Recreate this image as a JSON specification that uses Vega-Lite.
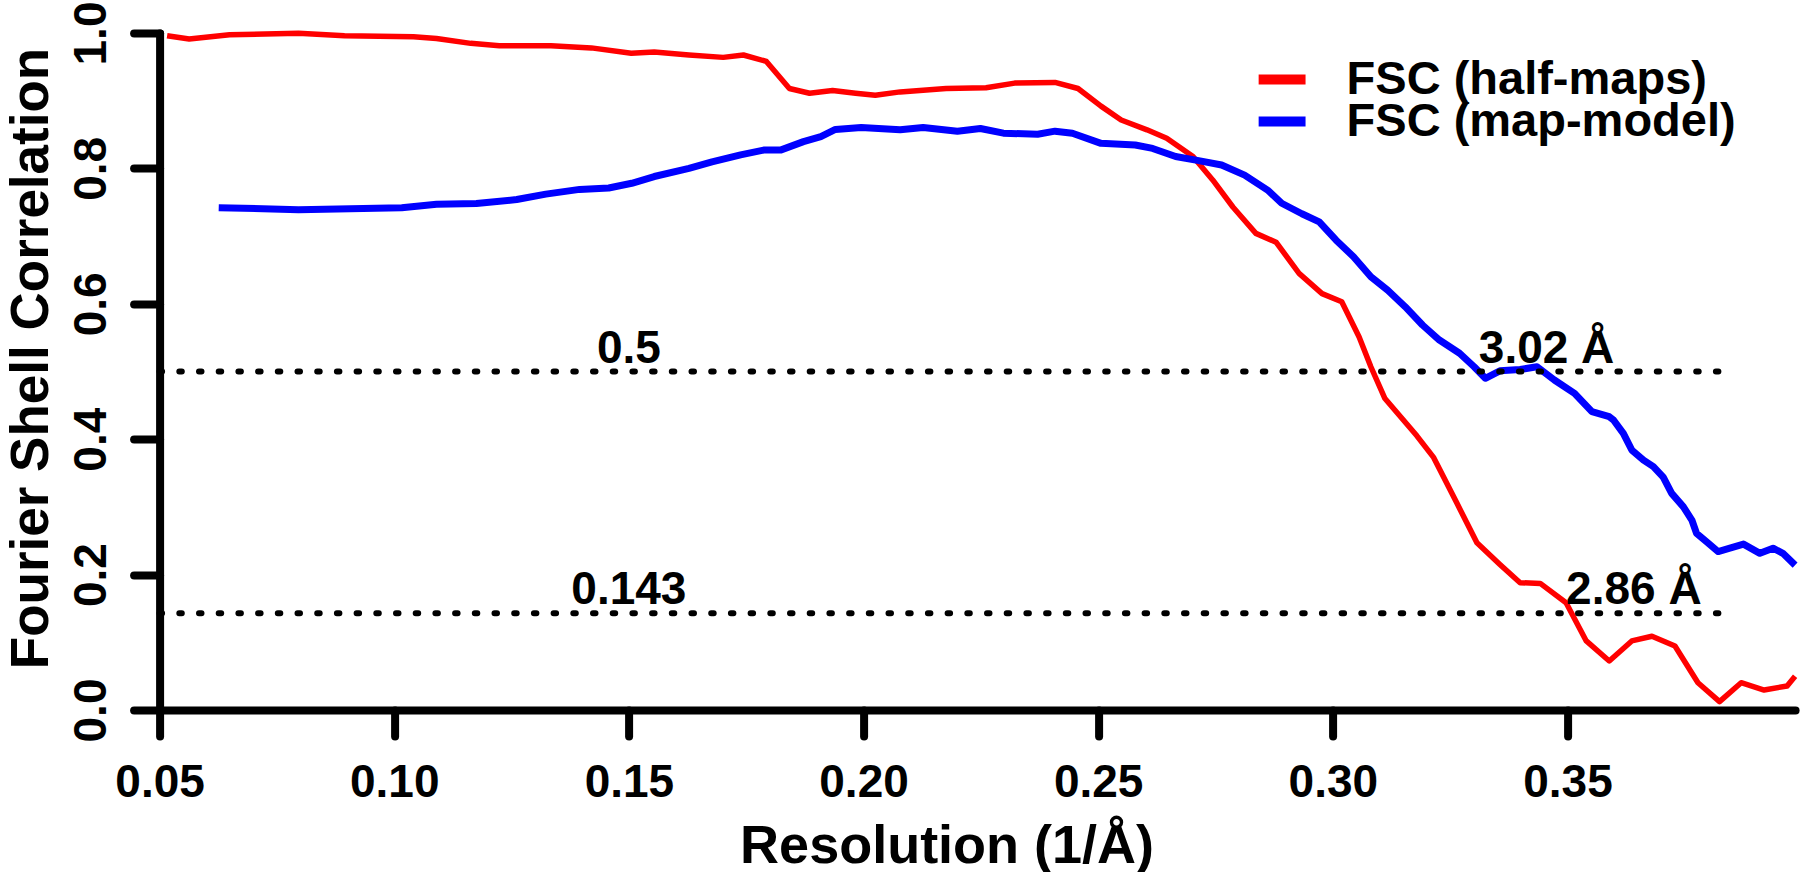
{
  "$schema": "https://vega.github.io/schema/vega-lite/v6.json",
  "width": 1635.5,
  "height": 677,
  "autosize": {"type": "none"},
  "padding": {"left": 159.6, "top": 33, "right": 4.9, "bottom": 162},
  "background": "white",
  "config": {"view": {"stroke": null}, "font": "Liberation Sans"},
  "datasets": {
    "halfmaps": [
      {"res": 0.0516, "fsc": 0.996, "series": "FSC (half-maps)"},
      {"res": 0.0563, "fsc": 0.991, "series": "FSC (half-maps)"},
      {"res": 0.0649, "fsc": 0.9975, "series": "FSC (half-maps)"},
      {"res": 0.0796, "fsc": 0.9995, "series": "FSC (half-maps)"},
      {"res": 0.0894, "fsc": 0.996, "series": "FSC (half-maps)"},
      {"res": 0.1041, "fsc": 0.9946, "series": "FSC (half-maps)"},
      {"res": 0.109, "fsc": 0.992, "series": "FSC (half-maps)"},
      {"res": 0.1163, "fsc": 0.9847, "series": "FSC (half-maps)"},
      {"res": 0.1224, "fsc": 0.981, "series": "FSC (half-maps)"},
      {"res": 0.1334, "fsc": 0.981, "series": "FSC (half-maps)"},
      {"res": 0.142, "fsc": 0.978, "series": "FSC (half-maps)"},
      {"res": 0.1505, "fsc": 0.97, "series": "FSC (half-maps)"},
      {"res": 0.1554, "fsc": 0.972, "series": "FSC (half-maps)"},
      {"res": 0.1628, "fsc": 0.9675, "series": "FSC (half-maps)"},
      {"res": 0.1701, "fsc": 0.964, "series": "FSC (half-maps)"},
      {"res": 0.1744, "fsc": 0.9675, "series": "FSC (half-maps)"},
      {"res": 0.1793, "fsc": 0.958, "series": "FSC (half-maps)"},
      {"res": 0.1842, "fsc": 0.918, "series": "FSC (half-maps)"},
      {"res": 0.1885, "fsc": 0.911, "series": "FSC (half-maps)"},
      {"res": 0.1934, "fsc": 0.915, "series": "FSC (half-maps)"},
      {"res": 0.1983, "fsc": 0.911, "series": "FSC (half-maps)"},
      {"res": 0.2025, "fsc": 0.908, "series": "FSC (half-maps)"},
      {"res": 0.2078, "fsc": 0.913, "series": "FSC (half-maps)"},
      {"res": 0.2176, "fsc": 0.918, "series": "FSC (half-maps)"},
      {"res": 0.2261, "fsc": 0.919, "series": "FSC (half-maps)"},
      {"res": 0.2322, "fsc": 0.926, "series": "FSC (half-maps)"},
      {"res": 0.2408, "fsc": 0.927, "series": "FSC (half-maps)"},
      {"res": 0.2457, "fsc": 0.918, "series": "FSC (half-maps)"},
      {"res": 0.2506, "fsc": 0.892, "series": "FSC (half-maps)"},
      {"res": 0.2549, "fsc": 0.8715, "series": "FSC (half-maps)"},
      {"res": 0.2604, "fsc": 0.857, "series": "FSC (half-maps)"},
      {"res": 0.2646, "fsc": 0.8445, "series": "FSC (half-maps)"},
      {"res": 0.2702, "fsc": 0.8175, "series": "FSC (half-maps)"},
      {"res": 0.2744, "fsc": 0.783, "series": "FSC (half-maps)"},
      {"res": 0.2787, "fsc": 0.743, "series": "FSC (half-maps)"},
      {"res": 0.2836, "fsc": 0.704, "series": "FSC (half-maps)"},
      {"res": 0.2879, "fsc": 0.691, "series": "FSC (half-maps)"},
      {"res": 0.2928, "fsc": 0.645, "series": "FSC (half-maps)"},
      {"res": 0.2977, "fsc": 0.615, "series": "FSC (half-maps)"},
      {"res": 0.3019, "fsc": 0.603, "series": "FSC (half-maps)"},
      {"res": 0.3056, "fsc": 0.551, "series": "FSC (half-maps)"},
      {"res": 0.3081, "fsc": 0.507, "series": "FSC (half-maps)"},
      {"res": 0.3111, "fsc": 0.46, "series": "FSC (half-maps)"},
      {"res": 0.3179, "fsc": 0.405, "series": "FSC (half-maps)"},
      {"res": 0.3215, "fsc": 0.3727, "series": "FSC (half-maps)"},
      {"res": 0.3264, "fsc": 0.306, "series": "FSC (half-maps)"},
      {"res": 0.3307, "fsc": 0.247, "series": "FSC (half-maps)"},
      {"res": 0.3356, "fsc": 0.215, "series": "FSC (half-maps)"},
      {"res": 0.3399, "fsc": 0.188, "series": "FSC (half-maps)"},
      {"res": 0.3442, "fsc": 0.187, "series": "FSC (half-maps)"},
      {"res": 0.3497, "fsc": 0.1585, "series": "FSC (half-maps)"},
      {"res": 0.354, "fsc": 0.102, "series": "FSC (half-maps)"},
      {"res": 0.3589, "fsc": 0.0724, "series": "FSC (half-maps)"},
      {"res": 0.3637, "fsc": 0.102, "series": "FSC (half-maps)"},
      {"res": 0.368, "fsc": 0.109, "series": "FSC (half-maps)"},
      {"res": 0.3729, "fsc": 0.0945, "series": "FSC (half-maps)"},
      {"res": 0.3778, "fsc": 0.0403, "series": "FSC (half-maps)"},
      {"res": 0.3824, "fsc": 0.0123, "series": "FSC (half-maps)"},
      {"res": 0.387, "fsc": 0.0403, "series": "FSC (half-maps)"},
      {"res": 0.3919, "fsc": 0.0295, "series": "FSC (half-maps)"},
      {"res": 0.3968, "fsc": 0.0355, "series": "FSC (half-maps)"},
      {"res": 0.3985, "fsc": 0.05, "series": "FSC (half-maps)"}
    ],
    "mapmodel": [
      {"res": 0.0626, "fsc": 0.742, "series": "FSC (map-model)"},
      {"res": 0.0796, "fsc": 0.739, "series": "FSC (map-model)"},
      {"res": 0.1016, "fsc": 0.742, "series": "FSC (map-model)"},
      {"res": 0.109, "fsc": 0.747, "series": "FSC (map-model)"},
      {"res": 0.1175, "fsc": 0.748, "series": "FSC (map-model)"},
      {"res": 0.1261, "fsc": 0.754, "series": "FSC (map-model)"},
      {"res": 0.1323, "fsc": 0.762, "series": "FSC (map-model)"},
      {"res": 0.1395, "fsc": 0.769, "series": "FSC (map-model)"},
      {"res": 0.1457, "fsc": 0.771, "series": "FSC (map-model)"},
      {"res": 0.1506, "fsc": 0.778, "series": "FSC (map-model)"},
      {"res": 0.1554, "fsc": 0.788, "series": "FSC (map-model)"},
      {"res": 0.1628, "fsc": 0.8, "series": "FSC (map-model)"},
      {"res": 0.1677, "fsc": 0.8095, "series": "FSC (map-model)"},
      {"res": 0.1738, "fsc": 0.82, "series": "FSC (map-model)"},
      {"res": 0.1787, "fsc": 0.827, "series": "FSC (map-model)"},
      {"res": 0.1823, "fsc": 0.827, "series": "FSC (map-model)"},
      {"res": 0.1872, "fsc": 0.8395, "series": "FSC (map-model)"},
      {"res": 0.1909, "fsc": 0.847, "series": "FSC (map-model)"},
      {"res": 0.194, "fsc": 0.8575, "series": "FSC (map-model)"},
      {"res": 0.1995, "fsc": 0.8605, "series": "FSC (map-model)"},
      {"res": 0.2078, "fsc": 0.857, "series": "FSC (map-model)"},
      {"res": 0.2127, "fsc": 0.8605, "series": "FSC (map-model)"},
      {"res": 0.22, "fsc": 0.855, "series": "FSC (map-model)"},
      {"res": 0.2249, "fsc": 0.859, "series": "FSC (map-model)"},
      {"res": 0.2298, "fsc": 0.852, "series": "FSC (map-model)"},
      {"res": 0.2371, "fsc": 0.8505, "series": "FSC (map-model)"},
      {"res": 0.2408, "fsc": 0.855, "series": "FSC (map-model)"},
      {"res": 0.2445, "fsc": 0.852, "series": "FSC (map-model)"},
      {"res": 0.2506, "fsc": 0.837, "series": "FSC (map-model)"},
      {"res": 0.2579, "fsc": 0.8345, "series": "FSC (map-model)"},
      {"res": 0.2616, "fsc": 0.8295, "series": "FSC (map-model)"},
      {"res": 0.2665, "fsc": 0.8175, "series": "FSC (map-model)"},
      {"res": 0.2714, "fsc": 0.8115, "series": "FSC (map-model)"},
      {"res": 0.2763, "fsc": 0.805, "series": "FSC (map-model)"},
      {"res": 0.2812, "fsc": 0.79, "series": "FSC (map-model)"},
      {"res": 0.2861, "fsc": 0.768, "series": "FSC (map-model)"},
      {"res": 0.2891, "fsc": 0.7485, "series": "FSC (map-model)"},
      {"res": 0.2934, "fsc": 0.733, "series": "FSC (map-model)"},
      {"res": 0.2971, "fsc": 0.721, "series": "FSC (map-model)"},
      {"res": 0.3007, "fsc": 0.694, "series": "FSC (map-model)"},
      {"res": 0.3044, "fsc": 0.6696, "series": "FSC (map-model)"},
      {"res": 0.3081, "fsc": 0.64, "series": "FSC (map-model)"},
      {"res": 0.3117, "fsc": 0.62, "series": "FSC (map-model)"},
      {"res": 0.3154, "fsc": 0.5957, "series": "FSC (map-model)"},
      {"res": 0.3191, "fsc": 0.5687, "series": "FSC (map-model)"},
      {"res": 0.3227, "fsc": 0.5465, "series": "FSC (map-model)"},
      {"res": 0.327, "fsc": 0.527, "series": "FSC (map-model)"},
      {"res": 0.3301, "fsc": 0.507, "series": "FSC (map-model)"},
      {"res": 0.3325, "fsc": 0.49, "series": "FSC (map-model)"},
      {"res": 0.3356, "fsc": 0.501, "series": "FSC (map-model)"},
      {"res": 0.3399, "fsc": 0.503, "series": "FSC (map-model)"},
      {"res": 0.3435, "fsc": 0.507, "series": "FSC (map-model)"},
      {"res": 0.3472, "fsc": 0.4875, "series": "FSC (map-model)"},
      {"res": 0.3515, "fsc": 0.4677, "series": "FSC (map-model)"},
      {"res": 0.3552, "fsc": 0.4406, "series": "FSC (map-model)"},
      {"res": 0.3589, "fsc": 0.4333, "series": "FSC (map-model)"},
      {"res": 0.3598, "fsc": 0.4284, "series": "FSC (map-model)"},
      {"res": 0.3619, "fsc": 0.4087, "series": "FSC (map-model)"},
      {"res": 0.3637, "fsc": 0.384, "series": "FSC (map-model)"},
      {"res": 0.3662, "fsc": 0.369, "series": "FSC (map-model)"},
      {"res": 0.3683, "fsc": 0.3594, "series": "FSC (map-model)"},
      {"res": 0.3704, "fsc": 0.344, "series": "FSC (map-model)"},
      {"res": 0.3722, "fsc": 0.32, "series": "FSC (map-model)"},
      {"res": 0.3747, "fsc": 0.3, "series": "FSC (map-model)"},
      {"res": 0.3765, "fsc": 0.2806, "series": "FSC (map-model)"},
      {"res": 0.3775, "fsc": 0.261, "series": "FSC (map-model)"},
      {"res": 0.3796, "fsc": 0.2486, "series": "FSC (map-model)"},
      {"res": 0.3821, "fsc": 0.234, "series": "FSC (map-model)"},
      {"res": 0.3846, "fsc": 0.239, "series": "FSC (map-model)"},
      {"res": 0.3875, "fsc": 0.245, "series": "FSC (map-model)"},
      {"res": 0.391, "fsc": 0.2314, "series": "FSC (map-model)"},
      {"res": 0.3938, "fsc": 0.239, "series": "FSC (map-model)"},
      {"res": 0.3959, "fsc": 0.2314, "series": "FSC (map-model)"},
      {"res": 0.3985, "fsc": 0.214, "series": "FSC (map-model)"}
    ],
    "thresholds": [
      {"level": 0.5, "from": 0.05, "to": 0.3857},
      {"level": 0.143, "from": 0.05, "to": 0.3857}
    ],
    "annotations": [
      {"kind": "threshold", "label": "0.5", "res": 0.15, "fsc": 0.5},
      {"kind": "threshold", "label": "0.143", "res": 0.15, "fsc": 0.143},
      {"kind": "resolution", "label": "3.02 Å", "res": 0.3311, "fsc": 0.5},
      {"kind": "resolution", "label": "2.86 Å", "res": 0.3497, "fsc": 0.143}
    ]
  },
  "layer": [
    {
      "data": {"name": "halfmaps"},
      "mark": {"type": "line", "strokeWidth": 5.5, "strokeJoin": "round"},
      "encoding": {
        "x": {
          "field": "res", "type": "quantitative",
          "scale": {"domain": [0.05, 0.3985], "nice": false, "zero": false},
          "axis": {
            "values": [0.05, 0.1, 0.15, 0.2, 0.25, 0.3, 0.35],
            "format": ".2f",
            "title": "Resolution (1/Å)",
            "grid": false,
            "domainColor": "black", "domainWidth": 8, "domainCap": "round",
            "tickColor": "black", "tickWidth": 8, "tickSize": 26, "tickCap": "round",
            "labelFont": "Liberation Sans", "labelFontWeight": "bold", "labelFontSize": 46,
            "labelColor": "black", "labelBaseline": "alphabetic", "labelPadding": 60,
            "labelFlush": false, "labelOverlap": false,
            "titleFont": "Liberation Sans", "titleFontSize": 54, "titleFontWeight": "bold",
            "titleColor": "black", "titleX": 787, "titleY": 152,
            "titleBaseline": "alphabetic", "titleAlign": "center"
          }
        },
        "y": {
          "field": "fsc", "type": "quantitative",
          "scale": {"domain": [0, 1], "nice": false},
          "axis": {
            "values": [0, 0.2, 0.4, 0.6, 0.8, 1],
            "format": ".1f",
            "title": "Fourier Shell Correlation",
            "grid": false,
            "domainColor": "black", "domainWidth": 8, "domainCap": "round",
            "tickColor": "black", "tickWidth": 8, "tickSize": 26, "tickCap": "round",
            "labelFont": "Liberation Sans", "labelFontWeight": "bold", "labelFontSize": 46,
            "labelColor": "black", "labelAngle": 270, "labelAlign": "center",
            "labelBaseline": "alphabetic", "labelPadding": 28,
            "labelFlush": false, "labelOverlap": false,
            "titleFont": "Liberation Sans", "titleFontSize": 53, "titleFontWeight": "bold",
            "titleColor": "black", "titleAngle": 270, "titleX": -112, "titleY": 325,
            "titleBaseline": "alphabetic", "titleAlign": "center"
          }
        },
        "color": {
          "field": "series", "type": "nominal",
          "scale": {"domain": ["FSC (half-maps)", "FSC (map-model)"], "range": ["#ff0000", "#0000ff"]},
          "legend": {
            "title": null, "orient": "none", "legendX": 1094, "legendY": 28,
            "symbolType": "stroke", "symbolSize": 2200, "symbolStrokeWidth": 10,
            "labelFont": "Liberation Sans", "labelFontWeight": "bold", "labelFontSize": 47,
            "labelColor": "black", "labelOffset": 36, "labelLimit": 1000,
            "clipHeight": 37, "rowPadding": -6, "padding": 0
          }
        }
      }
    },
    {
      "data": {"name": "mapmodel"},
      "mark": {"type": "line", "strokeWidth": 7, "strokeJoin": "round"},
      "encoding": {
        "x": {"field": "res", "type": "quantitative"},
        "y": {"field": "fsc", "type": "quantitative"},
        "color": {"field": "series", "type": "nominal"}
      }
    },
    {
      "data": {"name": "thresholds"},
      "mark": {"type": "rule", "color": "black", "strokeWidth": 6, "strokeDash": [2.5, 17.2], "strokeCap": "round"},
      "encoding": {
        "x": {"field": "from", "type": "quantitative"},
        "x2": {"field": "to"},
        "y": {"field": "level", "type": "quantitative"}
      }
    },
    {
      "data": {"name": "annotations"},
      "transform": [{"filter": "datum.kind === 'threshold'"}],
      "mark": {"type": "text", "font": "Liberation Sans", "fontSize": 46, "fontWeight": "bold", "color": "black", "align": "center", "baseline": "alphabetic", "dy": -9},
      "encoding": {
        "x": {"field": "res", "type": "quantitative"},
        "y": {"field": "fsc", "type": "quantitative"},
        "text": {"field": "label"}
      }
    },
    {
      "data": {"name": "annotations"},
      "transform": [{"filter": "datum.kind === 'resolution'"}],
      "mark": {"type": "text", "font": "Liberation Sans", "fontSize": 46, "fontWeight": "bold", "color": "black", "align": "left", "baseline": "alphabetic", "dy": -9},
      "encoding": {
        "x": {"field": "res", "type": "quantitative"},
        "y": {"field": "fsc", "type": "quantitative"},
        "text": {"field": "label"}
      }
    }
  ]
}
